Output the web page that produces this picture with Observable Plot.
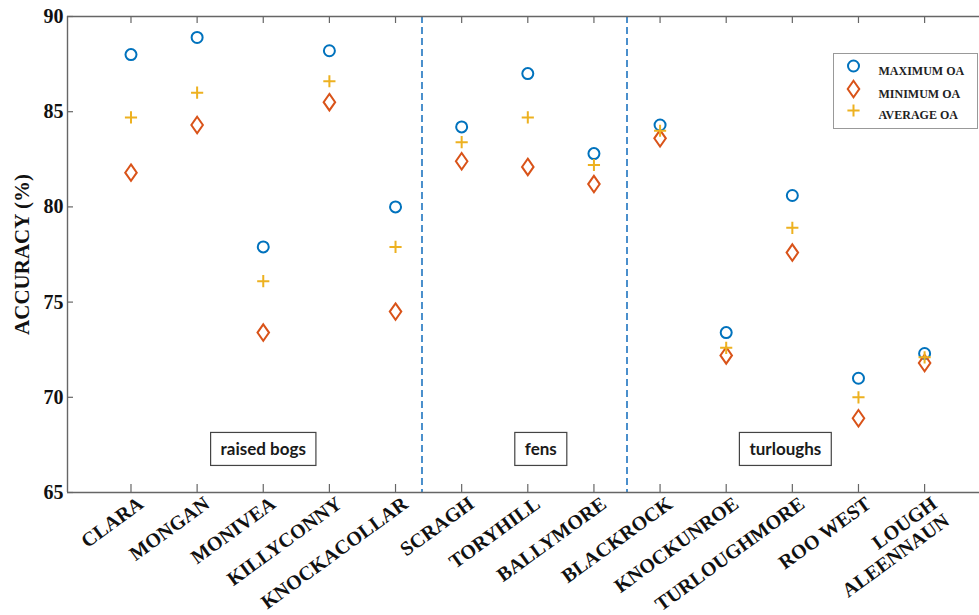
<!DOCTYPE html>
<html>
<head>
<meta charset="utf-8">
<script src="https://cdn.jsdelivr.net/npm/d3@7"></script>
<script src="https://cdn.jsdelivr.net/npm/@observablehq/plot@0.6"></script>
<style>
  html, body { margin: 0; padding: 0; background: white; }
  #chart { width: 979px; height: 615px; }
</style>
</head>
<body>
<div id="chart"></div>
<script>
// ---- data ----
const sites = ["CLARA", "MONGAN", "MONIVEA", "KILLYCONNY", "KNOCKACOLLAR", "SCRAGH", "TORYHILL",
  "BALLYMORE", "BLACKROCK", "KNOCKUNROE", "TURLOUGHMORE", "ROO WEST", "LOUGH\nALEENNAUN"];
const maxOA = [88.0, 88.9, 77.9, 88.2, 80.0, 84.2, 87.0, 82.8, 84.3, 73.4, 80.6, 71.0, 72.3];
const minOA = [81.8, 84.3, 73.4, 85.5, 74.5, 82.4, 82.1, 81.2, 83.6, 72.2, 77.6, 68.9, 71.8];
const avgOA = [84.7, 86.0, 76.1, 86.6, 77.9, 83.4, 84.7, 82.2, 84.0, 72.6, 78.9, 70.0, 72.1];
const groupNames = ["raised bogs", "fens", "turloughs"];
const groupSpans = [[1, 5], [6, 8], [9, 13]];
const dividers = [5.4, 8.5];
const yTicks = [65, 70, 75, 80, 85, 90];
const legendLabels = ["MAXIMUM OA", "MINIMUM OA", "AVERAGE OA"];

// ---- styling ----
const blue = "#0072BD", orange = "#D95319", yellow = "#EDB120";
const axisColor = "#666";
const serif = "Liberation Serif, Times New Roman, serif";
const xDomain = [0.04, 13.83];
const W = 979, H = 615, mL = 67, mR = 0, mT = 16, mB = 123;
const fw = W - mL - mR, fh = H - mT - mB;

const rows = sites.map((s, k) => ({i: k + 1, site: s, max: maxOA[k], min: minOA[k], avg: avgOA[k]}));
const idx = rows.map(d => d.i);
const groups = groupNames.map((g, k) => ({name: g, center: (groupSpans[k][0] + groupSpans[k][1]) / 2}));
const groupDx = [0, 13, -7];

const tallDiamond = {
  draw(ctx, size) {
    const r = Math.sqrt(size / Math.PI);
    const h = r * 1.5, w = r * 1.05;
    ctx.moveTo(0, -h); ctx.lineTo(w, 0); ctx.lineTo(0, h); ctx.lineTo(-w, 0); ctx.closePath();
  }
};

const legendSymbols = [
  {symbol: "circle", stroke: blue, r: 5.5},
  {symbol: tallDiamond, stroke: orange, r: 5.5},
  {symbol: "plus", stroke: yellow, r: 4}
];
const legendDy = [49.5, 72.5, 94];

const legendMarks = [];
legendMarks.push(Plot.frame({fill: "white", stroke: "#999", strokeWidth: 1,
  insetLeft: 833 - mL, insetRight: 2, insetTop: 53 - mT, insetBottom: mT + fh - 128}));
legendLabels.forEach((lab, k) => {
  const s = legendSymbols[k];
  legendMarks.push(Plot.dot([lab], {frameAnchor: "top-right", dx: -126, dy: legendDy[k],
    symbol: s.symbol, r: s.r, stroke: s.stroke, strokeWidth: 2, fill: "none"}));
  legendMarks.push(Plot.text([lab], {frameAnchor: "top-right", dx: -101, dy: legendDy[k], text: d => d,
    textAnchor: "start", fontSize: 12, fontWeight: "bold", fill: "#222", fontFamily: serif}));
});

const groupMarks = groups.map((g, k) => Plot.text([g], {
  x: "center", frameAnchor: "bottom", dy: -42.5, dx: groupDx[k], text: "name",
  fontSize: 17, fontWeight: "bold", fontFamily: "Lato, Carlito, Calibri, sans-serif", fill: "#1a1a1a",
  textAnchor: "middle", lineAnchor: "middle"
}));

const chart = Plot.plot({
  width: W, height: H,
  marginLeft: mL, marginRight: mR, marginTop: mT, marginBottom: mB,
  x: {domain: xDomain, axis: null},
  y: {domain: [65, 90], axis: null},
  style: {fontFamily: serif, background: "white", color: "#111"},
  marks: [
    Plot.ruleX(dividers, {stroke: "#4a8fcc", strokeWidth: 2, strokeDasharray: "7,4"}),
    Plot.ruleY([65, 90], {stroke: axisColor, strokeWidth: 1.4}),
    Plot.ruleX([xDomain[0]], {stroke: axisColor, strokeWidth: 1.4}),
    Plot.ruleX(idx, {stroke: axisColor, strokeWidth: 1.2, insetTop: fh - 8}),
    Plot.ruleX(idx, {stroke: axisColor, strokeWidth: 1.2, insetBottom: fh - 7}),
    Plot.ruleY(yTicks, {stroke: axisColor, strokeWidth: 1.2, insetRight: fw - 6}),
    Plot.axisY({ticks: yTicks, tickSize: 0, tickPadding: 4, fontSize: 20, fontWeight: "bold", fill: "#111"}),
    Plot.text(["ACCURACY (%)"], {frameAnchor: "left", dx: -45, rotate: -90, text: d => d,
      textAnchor: "middle", fontSize: 21, fontWeight: "bold", fill: "#111"}),
    Plot.text(rows, {x: "i", frameAnchor: "bottom", text: "site", rotate: -36, textAnchor: "end",
      lineAnchor: "top", dx: 5, dy: 2, fontSize: 20, fontWeight: "bold", fill: "#111", lineHeight: 1.05}),
    ...groupMarks,
    Plot.dot(rows, {x: "i", y: "max", r: 5.5, stroke: blue, strokeWidth: 2, fill: "none"}),
    Plot.dot(rows, {x: "i", y: "min", r: 5.5, symbol: tallDiamond, stroke: orange, strokeWidth: 2, fill: "none"}),
    Plot.dot(rows, {x: "i", y: "avg", r: 4, symbol: "plus", stroke: yellow, strokeWidth: 2}),
    ...legendMarks
  ]
});

document.getElementById("chart").appendChild(chart);

// boxes around the group labels
chart.querySelectorAll("text").forEach(t => {
  if (!groupNames.includes(t.textContent.trim())) return;
  const b = t.getBBox();
  const rect = document.createElementNS("http://www.w3.org/2000/svg", "rect");
  const cx = b.x + b.width / 2, cy = b.y + b.height / 2;
  const w = b.width + 20, h = 33;
  rect.setAttribute("x", cx - w / 2);
  rect.setAttribute("y", cy - h / 2);
  rect.setAttribute("width", w);
  rect.setAttribute("height", h);
  rect.setAttribute("fill", "white");
  rect.setAttribute("stroke", "#444");
  rect.setAttribute("stroke-width", "1.2");
  const tr = t.getAttribute("transform");
  if (tr) rect.setAttribute("transform", tr);
  t.parentNode.insertBefore(rect, t);
});
</script>
</body>
</html>
